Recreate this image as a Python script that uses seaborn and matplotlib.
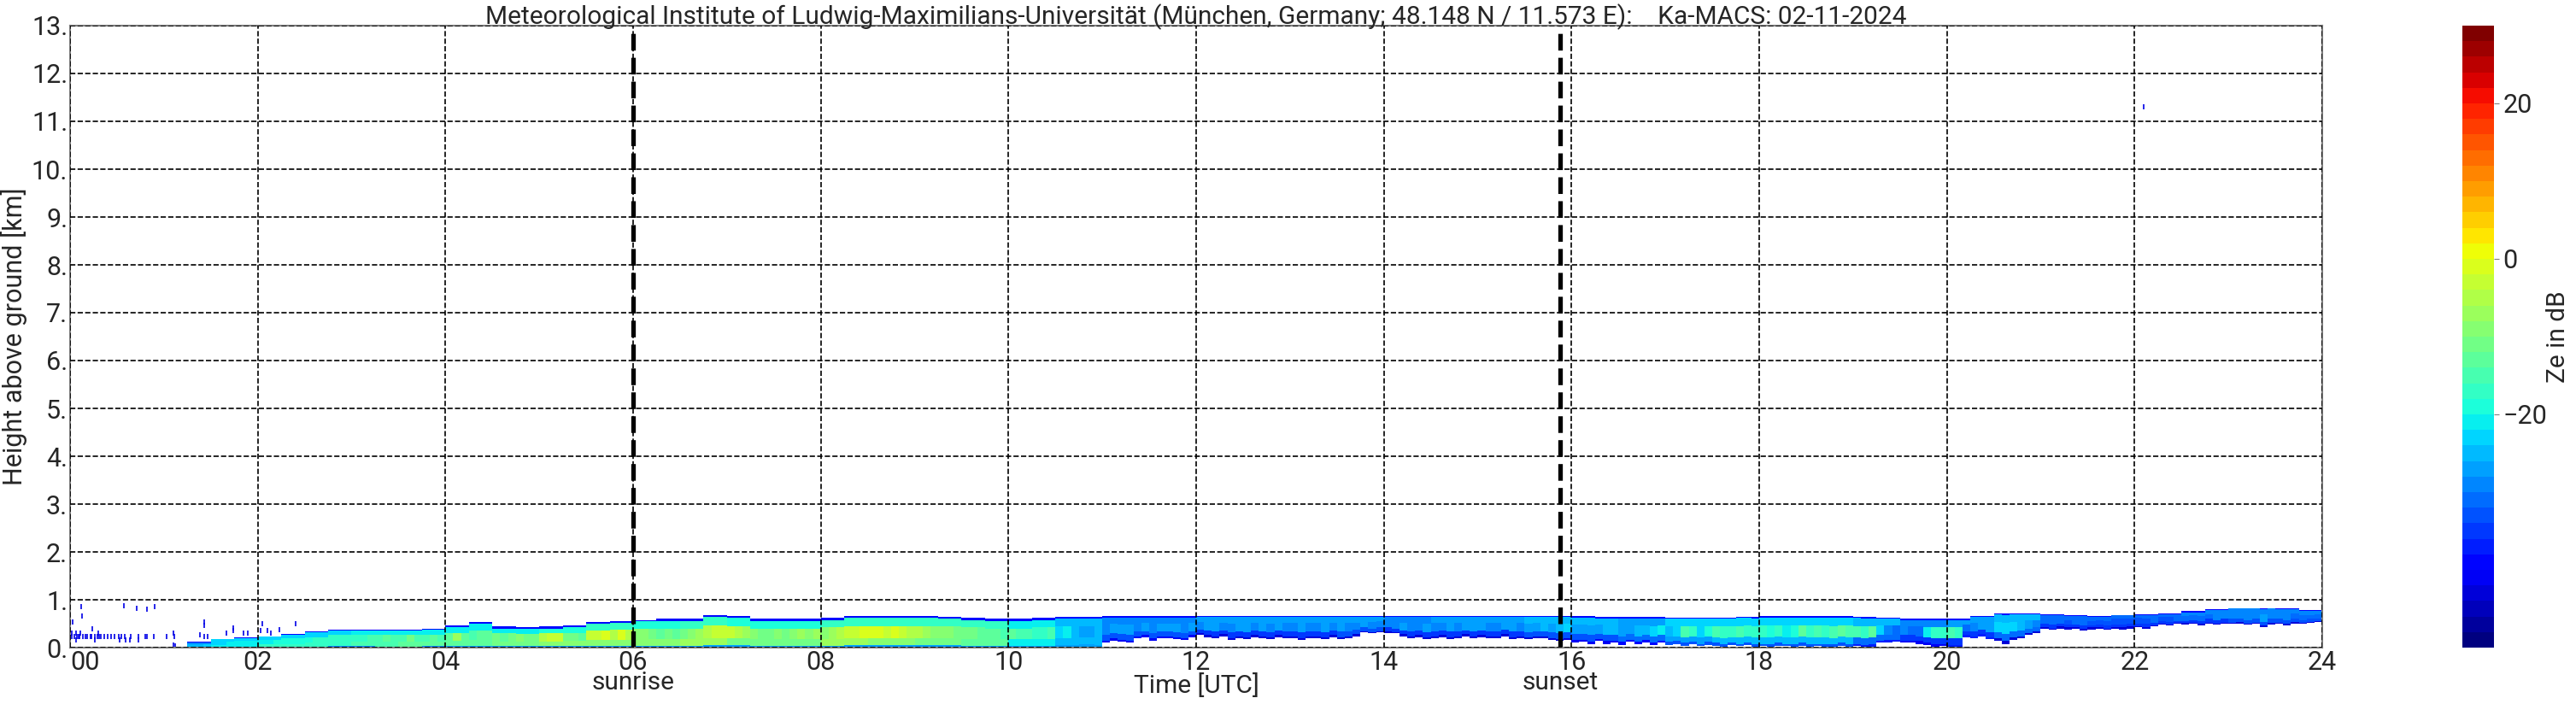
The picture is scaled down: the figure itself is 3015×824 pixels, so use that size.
import numpy as np
import matplotlib
matplotlib.use("Agg")
import matplotlib.pyplot as plt
import seaborn as sns

n = np.nan

# echo top [km], one value per 15 min, one line per hour
top_km = [
    n, n, n, n,
    n, .11, .18, .21,
    .245, .28, .33, .38,
    .38, .37, .37, .39,
    .45, .53, .43, .42,
    .43, .45, .53, .55,
    .58, .59, .60, .67,
    .65, .60, .60, .60,
    .61, .65, .65, .65,
    .65, .64, .62, .60,
    .60, .62, .63, .64,
    .65, .65, .65, .65,
    .66, .66, .66, .66,
    .66, .66, .66, .66,
    .66, .66, .66, .66,
    .66, .66, .66, .66,
    .65, .63, .63, .63,
    .62, .62, .62, .64,
    .66, .66, .66, .65,
    .64, .62, .60, .60,
    .60, .66, .72, .72,
    .70, .68, .65, .69,
    .70, .72, .75, .80,
    .83, .83, .82, .77,
]

# echo base [km], one value per 5 min, one line per hour
base_km = [0] * 120 + [
    0, 0, 0, 0, 0, 0, .01, .02, .01, .03, .03, .02,
    .1, .15, .12, .1, .2, .22, .15, .2, .2, .18, .16, .22,
    .26, .22, .2, .24, .17, .2, .18, .22, .2, .18, .22, .2,
    .2, .17, .2, .21, .18, .22, .19, .2, .25, .32, .3, .32,
    .31, .3, .24, .2, .22, .18, .2, .22, .19, .2, .24, .2,
    .23, .2, .21, .25, .19, .2, .18, .2, .2, .17, .14, .17,
    .11, .12, .08, .14, .09, .1, .07, .13, .08, .11, .06, .1,
    .07, .09, .05, .08, .04, .07, .05, .03, .06, .04, .06, .03,
    .04, .03, .05, .04, .03, .05, .02, .04, .03, .02, .05, .03,
    .04, .02, .03, .1, .11, .12, .1, .11, .09, .06, .03, .04,
    .02, .02, .23, .21, .25, .18, .15, .09, .17, .2, .26, .3,
    .4, .38, .41, .39, .4, .37, .39, .41, .38, .4, .39, .41,
    .42, .4, .45, .48, .47, .5, .49, .51, .47, .5, .48, .5,
    .5, .51, .48, .5, .42, .49, .5, .47, .51, .5, .52, .54,
]

# Ze [dB] inside the layer, upper/lower/floor per 30 min
upper_ze = [-30, -30, -30, -24, -24, -23, -22, -22, -22, -22, -20, -18, -19, -18, -19, -19,
            -17, -17, -18, -18, -21, -25, -29, -29, -28, -28, -28, -28, -29, -28, -27, -25,
            -26, -27, -24, -23, -23, -23, -26, -30, -27, -25, -31, -31, -31, -30, -29, -30]
lower_ze = [-25, -25, -25, -21, -18, -17, -15, -14, -13, -11, -10, -10, -10, -8, -11, -12,
            -7, -9, -11, -14, -22, -26, -33, -34, -35, -35, -35, -34, -35, -35, -35, -34,
            -33, -31, -27, -25, -26, -25, -31, -36, -35, -31, -36, -36, -36, -35, -34, -34]
floor_ze = [-30, -30, -30, -30, -30, -30, -30, -30, -28, -28, -27, -27, -27, -27, -27, -27,
            -27, -27, -27, -27, -28, -28, -42, -42, -43, -43, -43, -43, -43, -43, -43, -43,
            -41, -39, -34, -33, -33, -34, -37, -41, -38, -43, -44, -44, -44, -44, -43, -43]
edge_ze = -40

# Ze [dB] in the middle of the layer, per 5 min, one line per hour
core_ze = [
    n, n, n, n, n, n, n, n, n, n, n, n,
    n, n, n, -26, -25, -24, -24, -23, -22, -22, -22, -21,
    -21, -21, -20, -20, -19, -19, -19, -18, -18, -18, -18, -17,
    -17, -17, -16, -16, -14, -16, -15, -12, -15, -16, -14, -15,
    -13, -8, -14, -15, -14, -13, -12, -13, -12, -10, -12, -11,
    -6, -3, -4, -11, -12, -14, -4, -3, -2, -6, -1, -5,
    -9, -10, -12, -13, -12, -13, -11, -9, -7, -5, -4, -4,
    -3, -5, -7, -10, -11, -12, -9, -11, -10, -8, -9, -7,
    -9, -7, -6, -4, -3, -2, -1, -2, -3, -1, -3, -6,
    -6, -8, -9, -10, -10, -11, -12, -12, -13, -14, -14, -15,
    -13, -15, -16, -18, -17, -16, -24, -22, -25, -28, -27, -26,
    -30, -28, -28, -28, -29, -28, -29, -28, -28, -28, -29, -28,
    -29, -28, -27, -29, -30, -28, -28, -29, -27, -29, -28, -30,
    -29, -28, -30, -29, -28, -29, -28, -30, -29, -28, -29, -30,
    -29, -30, -28, -29, -30, -28, -29, -30, -28, -29, -27, -28,
    -28, -29, -30, -28, -27, -29, -28, -27, -26, -27, -25, -24,
    -27, -28, -28, -27, -26, -25, -27, -28, -26, -25, -24, -22,
    -26, -24, -16, -18, -24, -20, -16, -18, -17, -15, -17, -18,
    -17, -20, -18, -21, -19, -14, -17, -16, -18, -15, -13, -16,
    -16, -18, -13, -24, -30, -31, -30, -31, -32, -22, -18, -17,
    -15, -18, -32, -29, -28, -27, -24, -23, -24, -26, -27, -29,
    -31, -31, -32, -33, -32, -32, -34, -33, -33, -34, -34, -33,
    -33, -34, -32, -33, -33, -32, -32, -31, -31, -31, -30, -30,
    -30, -29, -29, -30, -28, -29, -30, -30, -31, -31, -32, -32,
]

# single gates outside the main layer
speck_t = [.115, .576, .706, .815, .897, .124, .03, .24, .02, .05, .07, .09, .1, .14, .16, .18, .22,
           .23, .26, .29, .31, .33, .36, .4, .44, .47, .52, .55, .58, .65, .73, .8, .82, .89, 1.03,
           1.11, .02, .06, .11, .3, 1.1, .06, .26, .59, .64, .73, .53, 1.1, 1.12, 1.43, 1.425, 1.38,
           1.43, 1.47, 1.67, 1.74, 1.74, 1.85, 1.89, 2.05, 2.4, 2.03, 2.1, 2.23, 2.14, 22.1]
speck_km = [.86, .875, .83, .81, .857, .667, .54, .40, .232, .232, .232, .232, .232, .232, .232, .232,
            .232, .232, .232, .232, .232, .232, .232, .232, .232, .232, .232, .232, .232, .232, .232,
            .232, .232, .232, .232, .232, .31, .31, .31, .31, .31, .155, .155, .155, .155, .155, .155,
            .05, .03, .47, .54, .26, .24, .24, .31, .35, .41, .31, .31, .5, .5, .35, .35, .38, .31, 11.3]

hour_labels = ["00", "02", "04", "06", "08", "10", "12", "14", "16", "18", "20", "22", "24"]
height_labels = [f"{i}." for i in range(14)]
sunrise_h = 6.0
sunset_h = 15.88

dz = 0.02
cols_per_hour = 12

# build the Ze cells, nearest value of each table, rows counted from the ground
top_c = np.repeat(top_km, 3)
up_c = np.repeat(upper_ze, 6)
lo_c = np.repeat(lower_ze, 6)
fl_c = np.repeat(floor_ze, 6)
base_c = np.array(base_km, dtype=float)
core_c = np.array(core_ze, dtype=float)

z = (np.arange(int(13 / dz)) + 0.5) * dz
grid = np.full((len(z), len(core_c)), np.nan)
for j in range(len(core_c)):
    if np.isnan(top_c[j]):
        continue
    depth = top_c[j] - base_c[j]
    frac = (top_c[j] - z) / depth
    grid[(frac >= .92) & (frac <= 1), j] = fl_c[j]
    grid[(frac >= .7) & (frac < .92), j] = lo_c[j]
    grid[(frac >= .32) & (frac < .7), j] = core_c[j]
    grid[(frac >= .05) & (frac < .32), j] = up_c[j]
    grid[(frac >= 0) & (frac < .05), j] = edge_ze

sns.set_style("white")
plt.rcParams["font.family"] = ["Roboto", "DejaVu Sans"]

fig = plt.figure(figsize=(30.15, 8.24), dpi=100)
ax = fig.add_axes([82 / 3015, 66 / 824, 2636 / 3015, 728 / 824])
cax = fig.add_axes([2882 / 3015, 66 / 824, 37 / 3015, 728 / 824])

sns.heatmap(grid, ax=ax, cbar_ax=cax, cmap=plt.get_cmap("jet", 40), vmin=-50, vmax=30,
            xticklabels=False, yticklabels=False, cbar_kws={"ticks": [-20, 0, 20]})
ax.set_xlim(0, 24 * cols_per_hour)
ax.set_ylim(0, 13 / dz)

sns.scatterplot(x=np.array(speck_t) * cols_per_hour, y=np.array(speck_km) / dz, ax=ax, marker="|",
                s=14, linewidth=1.2, color="#0000e6", legend=False)

ax.set_xticks(np.arange(0, 25, 2) * cols_per_hour)
ax.set_xticklabels(hour_labels, rotation=0)
ax.get_xticklabels()[0].set_ha("left")
ax.set_yticks(np.arange(14) / dz)
ax.set_yticklabels(height_labels, rotation=0)
ax.tick_params(axis="both", labelsize=22, length=0, pad=2)
ax.grid(True, color="black", linestyle="--", linewidth=1.2)
ax.set_axisbelow(False)
for s in ax.spines.values():
    s.set_visible(True)
    s.set_color("grey")
    s.set_linewidth(1.5)

ax.axvline(sunrise_h * cols_per_hour, color="black", linestyle="--", linewidth=3.8)
ax.axvline(sunset_h * cols_per_hour, color="black", linestyle="--", linewidth=3.8)
ax.text(sunrise_h * cols_per_hour, -0.0365, "sunrise", ha="center", va="top", fontsize=21.5,
        transform=ax.get_xaxis_transform())
ax.text(sunset_h * cols_per_hour, -0.0365, "sunset", ha="center", va="top", fontsize=21.5,
        transform=ax.get_xaxis_transform())

ax.set_title("Meteorological Institute of Ludwig-Maximilians-Universität (München, Germany; 48.148 N / 11.573 E):"
             "    Ka-MACS: 02-11-2024", fontsize=21.5, pad=1)
ax.set_xlabel("Time [UTC]", fontsize=21.5, visible=True, va="center")
ax.xaxis.set_label_coords(.5, -.0618)
ax.set_ylabel("Height above ground [km]", fontsize=22, visible=True)
ax.yaxis.set_label_coords(-.019, .5)

cbar = ax.collections[0].colorbar
cbar.ax.tick_params(labelsize=22, length=4, color="grey")
cbar.set_label("Ze in dB", fontsize=21.5)
cbar.ax.yaxis.set_label_coords(2.65, .5)
cbar.outline.set_visible(True)
cbar.outline.set_edgecolor("grey")

fig.savefig("out.png", dpi=100)
